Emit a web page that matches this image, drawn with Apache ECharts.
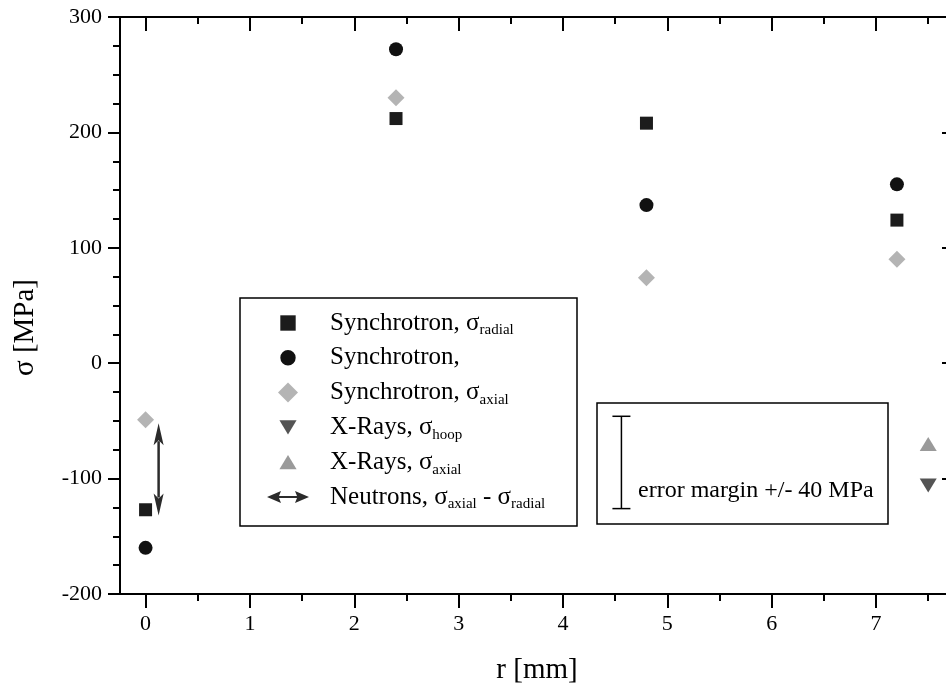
<!DOCTYPE html>
<html>
<head>
<meta charset="utf-8">
<script src="https://cdn.jsdelivr.net/npm/echarts@6/dist/echarts.min.js"></script>
<style>
  html, body { margin: 0; padding: 0; background: #fff; }
  #main { width: 946px; height: 688px; }
</style>
</head>
<body>
<div id="main"></div>
<script>
// radial positions (mm) and stresses (MPa)
const rSync = [0, 2.4, 4.8, 7.2];
const radialSync = [-127, 212, 208, 124];
const hoopSync = [-160, 272, 137, 155];
const axialSync = [-49, 230, 74, 90];

const rXray = [7.5];
const hoopXray = [-106];
const axialXray = [-70];

// neutrons: axial - radial range, drawn as a double arrow
const rNeutron = [0.125];
const neutronTop = [-52];
const neutronBottom = [-132];

// error margin marker
const errR = [4.56];
const errCenter = [-86];
const errHalf = 40;

const xMajorTicks = [0, 1, 2, 3, 4, 5, 6, 7];
const xMinorTicks = [0.5, 1.5, 2.5, 3.5, 4.5, 5.5, 6.5, 7.5];

const names = [
  'Synchrotron, σradial',
  'Synchrotron,',
  'Synchrotron, σaxial',
  'X-Rays, σhoop',
  'X-Rays, σaxial',
  'Neutrons, σaxial - σradial'
];
const richNames = {
  'Synchrotron, σradial': '{m|Synchrotron, σ}{s|radial}',
  'Synchrotron,': '{m|Synchrotron,}',
  'Synchrotron, σaxial': '{m|Synchrotron, σ}{s|axial}',
  'X-Rays, σhoop': '{m|X-Rays, σ}{s|hoop}',
  'X-Rays, σaxial': '{m|X-Rays, σ}{s|axial}',
  'Neutrons, σaxial - σradial': '{m|Neutrons, σ}{s|axial}{m| - σ}{s|radial}'
};
// legend icons (extra moveTo points pad the box so the marks keep their relative size)
const legendIcons = [
  'path://M-1.5,-1.5M11.5,11.5M0,0L10,0L10,10L0,10Z',
  'path://M-1.5,-1.5M11.5,11.5M5,0A5,5,0,1,1,5,10A5,5,0,1,1,5,0Z',
  'path://M6,0L12,6L6,12L0,6Z',
  'path://M-1,-2M13,12M0,0L12,0L6,10Z',
  'path://M-1,-2M13,12M6,0L12,10L0,10Z',
  'path://M0,7L14,1L12,6L30,6L28,1L42,7L28,13L30,8L12,8L14,13Z'
];

const FONT = 'Liberation Serif';
const X_MIN = -0.245, X_MAX = 7.747;

function pairs(xs, ys) {
  return ys.map((v, i) => [xs[i], v]);
}

const chart = echarts.init(document.getElementById('main'), null, { renderer: 'canvas' });

const tickStyle = { color: '#000', width: 2 };
const baseX = {
  type: 'value', min: X_MIN, max: X_MAX,
  splitLine: { show: false },
  axisLine: { show: false, onZero: false, lineStyle: tickStyle },
  axisLabel: { show: false },
  axisTick: { show: false }
};

const option = {
  animation: false,
  backgroundColor: '#fff',
  grid: { left: 120, top: 17, width: 834, height: 577, outerBoundsMode: 'none', containLabel: false },
  xAxis: [
    Object.assign({}, baseX, {
      position: 'bottom',
      axisLine: { show: true, onZero: false, lineStyle: tickStyle },
      axisTick: { show: true, inside: false, length: 14, customValues: xMajorTicks, lineStyle: tickStyle },
      axisLabel: { show: true, customValues: xMajorTicks, margin: 19, fontFamily: FONT, fontSize: 22, color: '#000' },
      name: 'r [mm]', nameLocation: 'middle', nameGap: 62,
      nameTextStyle: { fontFamily: FONT, fontSize: 29, color: '#000' }
    }),
    Object.assign({}, baseX, {
      position: 'bottom',
      axisTick: { show: true, inside: false, length: 7, customValues: xMinorTicks, lineStyle: tickStyle }
    }),
    Object.assign({}, baseX, {
      position: 'top',
      axisLine: { show: true, onZero: false, lineStyle: tickStyle },
      axisTick: { show: true, inside: true, length: 14, customValues: xMajorTicks, lineStyle: tickStyle }
    }),
    Object.assign({}, baseX, {
      position: 'top',
      axisTick: { show: true, inside: true, length: 7, customValues: xMinorTicks, lineStyle: tickStyle }
    })
  ],
  yAxis: [
    {
      type: 'value', min: -200, max: 300, interval: 100, position: 'left',
      splitLine: { show: false },
      axisLine: { show: true, onZero: false, lineStyle: tickStyle },
      axisTick: { show: true, inside: false, length: 12, lineStyle: tickStyle },
      minorTick: { show: true, splitNumber: 4, length: 7, lineStyle: tickStyle },
      axisLabel: { margin: 18, fontFamily: FONT, fontSize: 22, color: '#000' },
      name: 'σ [MPa]', nameLocation: 'middle', nameGap: 80, nameRotate: 90,
      nameTextStyle: { fontFamily: FONT, fontSize: 29, color: '#000', padding: [0, 44, 0, 0] }
    },
    {
      type: 'value', min: -200, max: 300, interval: 100, position: 'right',
      splitLine: { show: false },
      axisLine: { show: true, onZero: false, lineStyle: tickStyle },
      axisTick: { show: true, inside: true, length: 12, lineStyle: tickStyle },
      minorTick: { show: true, splitNumber: 4, length: 7, lineStyle: tickStyle },
      axisLabel: { show: false }
    }
  ],
  legend: {
    orient: 'vertical',
    left: 267, top: 308,
    padding: 0,
    itemWidth: 42, itemHeight: 20, itemGap: 4.8,
    symbolKeepAspect: true,
    selectedMode: false,
    data: names.map((n, i) => ({ name: n, icon: legendIcons[i] })),
    formatter: function (n) { return '{g| }' + richNames[n]; },
    textStyle: {
      fontFamily: FONT, fontSize: 25, color: '#000', lineHeight: 30,
      rich: {
        g: { width: 16, fontSize: 25, lineHeight: 30 },
        m: { fontFamily: FONT, fontSize: 25, color: '#000', lineHeight: 30 },
        s: { fontFamily: FONT, fontSize: 15, color: '#000', lineHeight: 11, verticalAlign: 'bottom' }
      }
    }
  },
  graphic: [
    { type: 'rect', z: 10, shape: { x: 240, y: 298, width: 337, height: 228 },
      style: { fill: 'none', stroke: '#000', lineWidth: 1.5 } },
    { type: 'rect', z: 10, shape: { x: 597, y: 403, width: 291, height: 121 },
      style: { fill: 'none', stroke: '#000', lineWidth: 1.5 } },
    { type: 'text', z: 10, left: 638, top: 479,
      style: { text: 'error margin +/- 40 MPa', fontFamily: FONT, fontSize: 24, fill: '#000' } }
  ],
  series: [
    { name: names[0], type: 'scatter', symbol: 'rect', symbolSize: 13,
      itemStyle: { color: '#1c1c1c', opacity: 1 }, data: pairs(rSync, radialSync) },
    { name: names[1], type: 'scatter', symbol: 'circle', symbolSize: 14,
      itemStyle: { color: '#111', opacity: 1 }, data: pairs(rSync, hoopSync) },
    { name: names[2], type: 'scatter', symbol: 'diamond', symbolSize: 17,
      itemStyle: { color: '#b4b4b4', opacity: 1 }, data: pairs(rSync, axialSync) },
    { name: names[3], type: 'scatter', symbol: 'triangle', symbolSize: [17, 14], symbolRotate: 180,
      itemStyle: { color: '#545454', opacity: 1 }, data: pairs(rXray, hoopXray) },
    { name: names[4], type: 'scatter', symbol: 'triangle', symbolSize: [17, 14],
      itemStyle: { color: '#9a9a9a', opacity: 1 }, data: pairs(rXray, axialXray) },
    {
      name: names[5], type: 'custom',
      itemStyle: { color: '#2b2b2b' },
      data: rNeutron.map((r, i) => [r, neutronTop[i], neutronBottom[i]]),
      encode: { x: 0, y: [1, 2] },
      renderItem: function (params, api) {
        const top = api.coord([api.value(0), api.value(1)]);
        const bot = api.coord([api.value(0), api.value(2)]);
        const c = '#2b2b2b';
        const hw = 5, hl = 22;
        return {
          type: 'group',
          children: [
            { type: 'line', shape: { x1: top[0], y1: top[1] + hl - 4, x2: bot[0], y2: bot[1] - hl + 4 },
              style: { stroke: c, lineWidth: 2.5 } },
            { type: 'polygon', shape: { points: [[top[0], top[1]], [top[0] - hw, top[1] + hl], [top[0], top[1] + hl - 5], [top[0] + hw, top[1] + hl]] },
              style: { fill: c } },
            { type: 'polygon', shape: { points: [[bot[0], bot[1]], [bot[0] - hw, bot[1] - hl], [bot[0], bot[1] - hl + 5], [bot[0] + hw, bot[1] - hl]] },
              style: { fill: c } }
          ]
        };
      }
    },
    {
      name: 'error margin', type: 'custom',
      data: errR.map((r, i) => [r, errCenter[i] + errHalf, errCenter[i] - errHalf]),
      encode: { x: 0, y: [1, 2] },
      renderItem: function (params, api) {
        const top = api.coord([api.value(0), api.value(1)]);
        const bot = api.coord([api.value(0), api.value(2)]);
        const cap = 9;
        const st = { stroke: '#000', lineWidth: 1.5 };
        return {
          type: 'group',
          children: [
            { type: 'line', shape: { x1: top[0], y1: top[1], x2: bot[0], y2: bot[1] }, style: st },
            { type: 'line', shape: { x1: top[0] - cap, y1: top[1], x2: top[0] + cap, y2: top[1] }, style: st },
            { type: 'line', shape: { x1: bot[0] - cap, y1: bot[1], x2: bot[0] + cap, y2: bot[1] }, style: st }
          ]
        };
      }
    }
  ]
};

chart.setOption(option);
</script>
</body>
</html>
